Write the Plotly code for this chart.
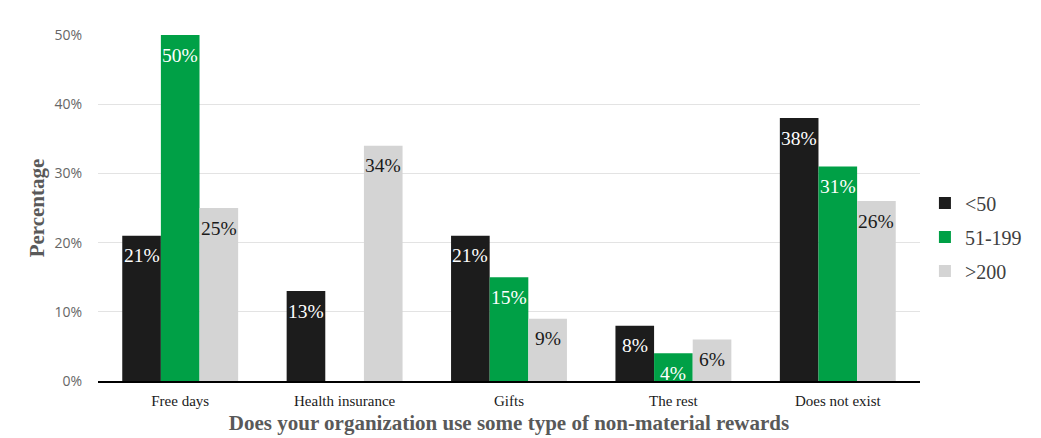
import plotly.graph_objects as go

# Non-material rewards by organization size (percent of respondents)
categories = ["Free days", "Health insurance", "Gifts", "The rest", "Does not exist"]
series_names = ["<50", "51-199", ">200"]
small_org = [21, 13, 21, 8, 38]
medium_org = [50, None, 15, 4, 31]
large_org = [25, 34, 9, 6, 26]

series_values = [small_org, medium_org, large_org]
bar_colors = ["#1c1c1c", "#00a046", "#d4d4d4"]
label_colors = ["#ffffff", "#ffffff", "#1a1a1a"]

serif = "Liberation Serif"
sans = "Open Sans"

fig = go.Figure()
for i, (name, vals, col) in enumerate(zip(series_names, series_values, bar_colors)):
    fig.add_trace(go.Bar(
        x=categories, y=vals, name=name, marker=dict(color=col, line=dict(width=0)),
        legendgroup=name, offsetgroup=str(i),
    ))

# value labels sit just inside the top of each bar
plot_left, plot_right = 98, 920
slot = (plot_right - plot_left) / len(categories)
bargap = 0.295
bar_w = slot * (1 - bargap) / 3
annotations = []
for i, (vals, tc) in enumerate(zip(series_values, label_colors)):
    for cat, v in zip(categories, vals):
        if v is None:
            continue
        annotations.append(dict(
            x=cat, y=v, xref="x", yref="y", text=f"{v}%", showarrow=False,
            xshift=(i - 1) * bar_w, yshift=-20, yanchor="middle",
            font=dict(family=serif, size=19.5, color=tc),
        ))

fig.update_layout(
    width=1041, height=438,
    margin=dict(l=plot_left, r=1041 - plot_right, t=35, b=57),
    paper_bgcolor="white", plot_bgcolor="white",
    font=dict(family=serif),
    barmode="group", bargap=bargap, bargroupgap=0,
    annotations=annotations,
    legend=dict(
        x=1.006, xanchor="left", y=0.416, yanchor="middle",
        font=dict(family=serif, size=20, color="#404040"),
        tracegroupgap=5, itemclick=False,
    ),
    xaxis=dict(
        title=dict(text="Does your organization use some type of non-material rewards",
                   font=dict(family=serif, size=21, color="#595959", weight="bold"),
                   standoff=8),
        tickfont=dict(family=serif, size=15, color="#1a1a1a"),
        showline=True, linecolor="#000000", linewidth=1.5,
        ticks="outside", ticklen=5, tickcolor="rgba(0,0,0,0)", showgrid=False,
        automargin=False,
    ),
    yaxis=dict(
        title=dict(text="Percentage",
                   font=dict(family=serif, size=21, color="#595959", weight="bold"),
                   standoff=4),
        range=[0, 50], dtick=10, ticksuffix="%",
        tickfont=dict(family=sans, size=14, color="#666666"),
        ticks="outside", ticklen=12, tickcolor="rgba(0,0,0,0)",
        showgrid=True, gridcolor="#e3e3e3", gridwidth=1,
        zeroline=False, showline=False, automargin=False,
    ),
)

fig.write_html("out.html")
